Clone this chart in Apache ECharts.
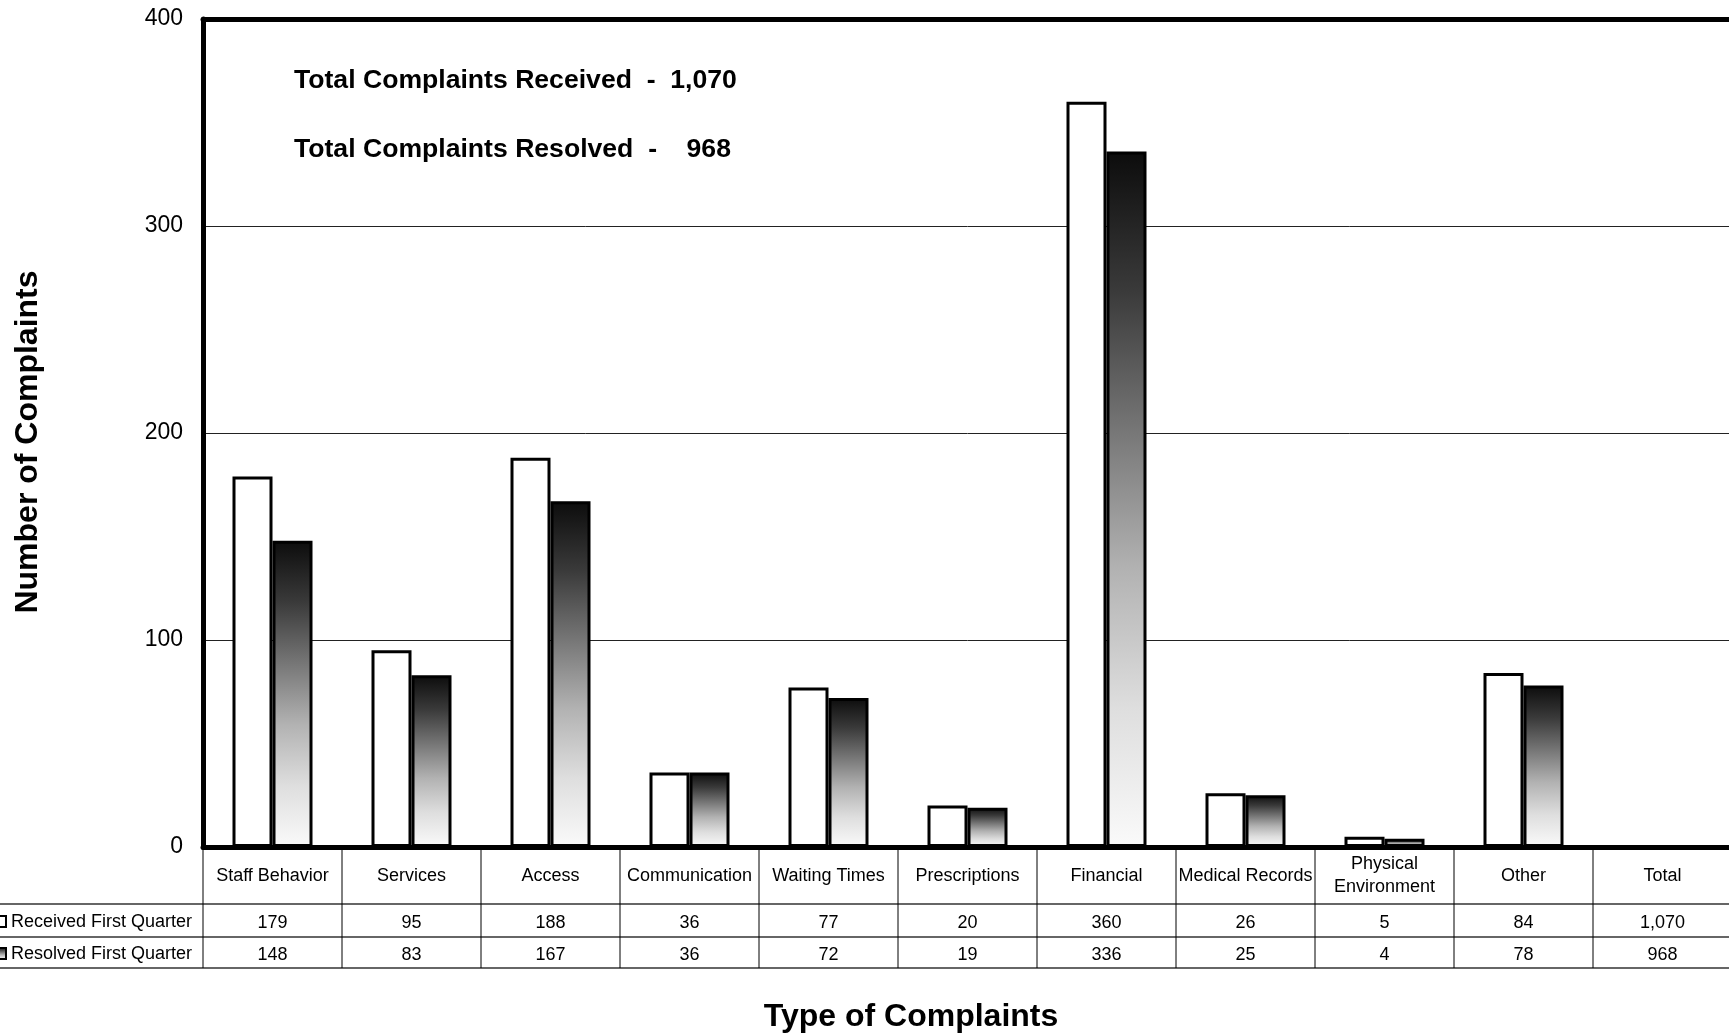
<!DOCTYPE html>
<html>
<head>
<meta charset="utf-8">
<script src="https://cdn.jsdelivr.net/npm/echarts@6/dist/echarts.min.js"></script>
<style>
html,body{margin:0;padding:0;background:#fff;overflow:hidden;width:1729px;height:1034px;}
#chart{width:1740px;height:1034px;}
</style>
</head>
<body>
<div id="chart"></div>
<script>
const categories = ['Staff Behavior','Services','Access','Communication','Waiting Times','Prescriptions','Financial','Medical Records','Physical\nEnvironment','Other','Total'];
const received = [179,95,188,36,77,20,360,26,5,84];
const resolved = [148,83,167,36,72,19,336,25,4,78];
const receivedTotal = 1070;
const resolvedTotal = 968;
const rowLabels = ['Received First Quarter','Resolved First Quarter'];
const yMin = 0, yMax = 400, yStep = 100;

const FONT = 'Liberation Sans, Arial, sans-serif';
const fmt = v => v.toLocaleString('en-US');
const receivedRow = received.concat([receivedTotal]).map(fmt);
const resolvedRow = resolved.concat([resolvedTotal]).map(fmt);

const chart = echarts.init(document.getElementById('chart'));

function grad(){
  return new echarts.graphic.LinearGradient(0,0,0,1,[
    {offset:0,color:'#0c0c0c'},
    {offset:0.2,color:'#3a3a3a'},
    {offset:0.4,color:'#767676'},
    {offset:0.6,color:'#b2b2b2'},
    {offset:0.8,color:'#dedede'},
    {offset:1,color:'#fafafa'}
  ]);
}

const GRID_TOP = 19, GRID_LEFT = 203, GRID_W = 1529, GRID_H = 828;
const ROW1 = 57, ROW2 = 90, ROW3 = 121;

option = {
  backgroundColor:'#fff',
  animation:false,
  textStyle:{fontFamily:FONT},
  grid:{left:GRID_LEFT, top:GRID_TOP, width:GRID_W, height:GRID_H, show:false, containLabel:false},
  xAxis:[{
    type:'category', data:categories, position:'bottom',
    axisLine:{show:true, lineStyle:{color:'#000', width:5}},
    axisTick:{show:false}, axisLabel:{show:false}, splitLine:{show:false}
  },{
    type:'category', data:categories, position:'top',
    axisLine:{show:true, lineStyle:{color:'#000', width:5}},
    axisTick:{show:false}, axisLabel:{show:false}, splitLine:{show:false}
  }],
  yAxis:{
    type:'value', min:yMin, max:yMax, interval:yStep,
    axisLine:{show:true, lineStyle:{color:'#000', width:5}}, axisTick:{show:false},
    axisLabel:{color:'#000', fontSize:23, margin:20, fontFamily:FONT, padding:[3,0,0,0]},
    splitLine:{show:true, lineStyle:{color:'#222', width:1}}
  },
  series:[
    {
      type:'bar', name:rowLabels[0], data:received, barWidth:40, barGap:'0%',
      itemStyle:{color:'#fff', borderColor:'#000', borderWidth:3}, z:3
    },
    {
      type:'bar', name:rowLabels[1], data:resolved, barWidth:40, barGap:'0%',
      itemStyle:{color:grad(), borderColor:'#000', borderWidth:3}, z:3
    },
    {
      type:'custom', silent:true, clip:false, z:5,
      data:categories.map((c,i)=>[i,0]),
      renderItem:function(params, api){
        const idx = api.value(0);
        const p = api.coord([idx, 0]);
        const w = api.size([1,0])[0];
        const x0 = p[0]-w/2;
        const top = p[1];
        const txt = (s, y) => ({type:'text', style:{text:s, x:p[0], y:top+y, align:'center', verticalAlign:'middle', textAlign:'center', textVerticalAlign:'middle', fontSize:18, fontFamily:FONT, fill:'#000', lineHeight:23}});
        return {type:'group', children:[
          {type:'line', shape:{x1:x0,y1:top,x2:x0,y2:top+ROW3}, style:{stroke:'#000', lineWidth:1}},
          txt(categories[idx], 29),
          txt(receivedRow[idx], 76),
          txt(resolvedRow[idx], 108)
        ]};
      }
    }
  ],
  graphic:[
    {type:'line', shape:{x1:0,y1:GRID_TOP+GRID_H+ROW1,x2:1740,y2:GRID_TOP+GRID_H+ROW1}, style:{stroke:'#666', lineWidth:2}},
    {type:'line', shape:{x1:0,y1:GRID_TOP+GRID_H+ROW2,x2:1740,y2:GRID_TOP+GRID_H+ROW2}, style:{stroke:'#333', lineWidth:1.5}},
    {type:'line', shape:{x1:0,y1:GRID_TOP+GRID_H+ROW3,x2:1740,y2:GRID_TOP+GRID_H+ROW3}, style:{stroke:'#666', lineWidth:2}},
    {type:'rect', shape:{x:-5,y:916,width:11,height:11}, style:{fill:'#fff', stroke:'#000', lineWidth:2}},
    {type:'rect', shape:{x:-5,y:948,width:11,height:11}, style:{fill:grad(), stroke:'#000', lineWidth:2}},
    {type:'text', x:11, y:922, style:{text:rowLabels[0], fontSize:18, fontFamily:FONT, fill:'#000', textAlign:'left', textVerticalAlign:'middle'}},
    {type:'text', x:11, y:954, style:{text:rowLabels[1], fontSize:18, fontFamily:FONT, fill:'#000', textAlign:'left', textVerticalAlign:'middle'}},
    {type:'text', x:294, y:81, style:{text:'Total Complaints Received  -  ' + fmt(receivedTotal), fontSize:26.6, fontWeight:'bold', fontFamily:FONT, fill:'#000', textAlign:'left', textVerticalAlign:'middle'}},
    {type:'text', x:294, y:150, style:{text:'Total Complaints Resolved  -    ' + fmt(resolvedTotal), fontSize:26.6, fontWeight:'bold', fontFamily:FONT, fill:'#000', textAlign:'left', textVerticalAlign:'middle'}},
    {type:'text', x:911, y:1017, style:{text:'Type of Complaints', fontSize:32, fontWeight:'bold', fontFamily:FONT, fill:'#000', textAlign:'center', textVerticalAlign:'middle'}},
    {type:'text', x:28, y:442, rotation:Math.PI/2, style:{text:'Number of Complaints', fontSize:32, fontWeight:'bold', fontFamily:FONT, fill:'#000', textAlign:'center', textVerticalAlign:'middle'}}
  ]
};
chart.setOption(option);
</script>
</body>
</html>
